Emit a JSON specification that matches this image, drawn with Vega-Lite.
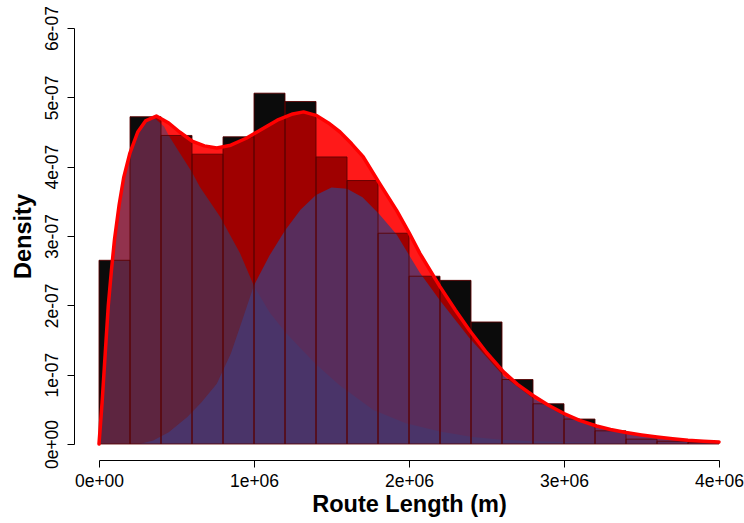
{
  "$schema": "https://vega.github.io/schema/vega-lite/v6.json",
  "width": 620,
  "height": 416,
  "autosize": {"type": "none"},
  "padding": {"left": 99, "top": 28, "right": 25, "bottom": 79},
  "background": "white",
  "config": {"view": {"stroke": null}, "font": "Liberation Sans"},
  "datasets": {
    "hist": [
      {"x": 0, "x2": 200000, "d": 2.65e-7},
      {"x": 200000, "x2": 400000, "d": 4.72e-7},
      {"x": 400000, "x2": 600000, "d": 4.45e-7},
      {"x": 600000, "x2": 800000, "d": 4.18e-7},
      {"x": 800000, "x2": 1000000, "d": 4.43e-7},
      {"x": 1000000, "x2": 1200000, "d": 5.06e-7},
      {"x": 1200000, "x2": 1400000, "d": 4.94e-7},
      {"x": 1400000, "x2": 1600000, "d": 4.14e-7},
      {"x": 1600000, "x2": 1800000, "d": 3.80e-7},
      {"x": 1800000, "x2": 2000000, "d": 3.04e-7},
      {"x": 2000000, "x2": 2200000, "d": 2.42e-7},
      {"x": 2200000, "x2": 2400000, "d": 2.36e-7},
      {"x": 2400000, "x2": 2600000, "d": 1.76e-7},
      {"x": 2600000, "x2": 2800000, "d": 0.93e-7},
      {"x": 2800000, "x2": 3000000, "d": 0.58e-7},
      {"x": 3000000, "x2": 3200000, "d": 0.36e-7},
      {"x": 3200000, "x2": 3400000, "d": 0.19e-7},
      {"x": 3400000, "x2": 3600000, "d": 0.07e-7},
      {"x": 3600000, "x2": 3800000, "d": 0.04e-7},
      {"x": 3800000, "x2": 4000000, "d": 0.02e-7}
    ],
    "mix": [
      {"x": 0, "d": 0},
      {"x": 20000, "d": 0.6e-7},
      {"x": 40000, "d": 1.3e-7},
      {"x": 60000, "d": 2.0e-7},
      {"x": 80000, "d": 2.5e-7},
      {"x": 100000, "d": 2.95e-7},
      {"x": 130000, "d": 3.45e-7},
      {"x": 160000, "d": 3.85e-7},
      {"x": 200000, "d": 4.2e-7},
      {"x": 250000, "d": 4.5e-7},
      {"x": 300000, "d": 4.66e-7},
      {"x": 370000, "d": 4.73e-7},
      {"x": 450000, "d": 4.63e-7},
      {"x": 520000, "d": 4.50e-7},
      {"x": 600000, "d": 4.37e-7},
      {"x": 680000, "d": 4.30e-7},
      {"x": 760000, "d": 4.27e-7},
      {"x": 850000, "d": 4.31e-7},
      {"x": 950000, "d": 4.41e-7},
      {"x": 1050000, "d": 4.54e-7},
      {"x": 1150000, "d": 4.67e-7},
      {"x": 1250000, "d": 4.76e-7},
      {"x": 1320000, "d": 4.79e-7},
      {"x": 1400000, "d": 4.74e-7},
      {"x": 1480000, "d": 4.63e-7},
      {"x": 1555000, "d": 4.50e-7},
      {"x": 1630000, "d": 4.33e-7},
      {"x": 1705000, "d": 4.14e-7},
      {"x": 1810000, "d": 3.76e-7},
      {"x": 1920000, "d": 3.37e-7},
      {"x": 2000000, "d": 3.05e-7},
      {"x": 2070000, "d": 2.75e-7},
      {"x": 2200000, "d": 2.27e-7},
      {"x": 2300000, "d": 1.93e-7},
      {"x": 2390000, "d": 1.64e-7},
      {"x": 2500000, "d": 1.32e-7},
      {"x": 2610000, "d": 1.04e-7},
      {"x": 2700000, "d": 0.86e-7},
      {"x": 2800000, "d": 0.70e-7},
      {"x": 2900000, "d": 0.56e-7},
      {"x": 3000000, "d": 0.44e-7},
      {"x": 3100000, "d": 0.34e-7},
      {"x": 3210000, "d": 0.26e-7},
      {"x": 3300000, "d": 0.21e-7},
      {"x": 3400000, "d": 0.165e-7},
      {"x": 3500000, "d": 0.13e-7},
      {"x": 3600000, "d": 0.10e-7},
      {"x": 3700000, "d": 0.075e-7},
      {"x": 3800000, "d": 0.053e-7},
      {"x": 3900000, "d": 0.04e-7},
      {"x": 4000000, "d": 0.03e-7}
    ],
    "c1": [
      {"x": 0, "d": 0},
      {"x": 20000, "d": 0.6e-7},
      {"x": 40000, "d": 1.3e-7},
      {"x": 60000, "d": 2.0e-7},
      {"x": 80000, "d": 2.5e-7},
      {"x": 100000, "d": 2.95e-7},
      {"x": 130000, "d": 3.45e-7},
      {"x": 160000, "d": 3.85e-7},
      {"x": 200000, "d": 4.2e-7},
      {"x": 250000, "d": 4.48e-7},
      {"x": 300000, "d": 4.64e-7},
      {"x": 360000, "d": 4.70e-7},
      {"x": 420000, "d": 4.58e-7},
      {"x": 450000, "d": 4.45e-7},
      {"x": 520000, "d": 4.2e-7},
      {"x": 600000, "d": 3.92e-7},
      {"x": 650000, "d": 3.71e-7},
      {"x": 780000, "d": 3.28e-7},
      {"x": 910000, "d": 2.75e-7},
      {"x": 1000000, "d": 2.28e-7},
      {"x": 1100000, "d": 1.90e-7},
      {"x": 1200000, "d": 1.62e-7},
      {"x": 1300000, "d": 1.38e-7},
      {"x": 1400000, "d": 1.15e-7},
      {"x": 1550000, "d": 0.85e-7},
      {"x": 1770000, "d": 0.49e-7},
      {"x": 1980000, "d": 0.30e-7},
      {"x": 2200000, "d": 0.18e-7},
      {"x": 2410000, "d": 0.10e-7},
      {"x": 2600000, "d": 0.06e-7},
      {"x": 2800000, "d": 0.04e-7},
      {"x": 3000000, "d": 0.03e-7},
      {"x": 3300000, "d": 0.015e-7},
      {"x": 3600000, "d": 0.008e-7},
      {"x": 4000000, "d": 0.004e-7}
    ],
    "c2": [
      {"x": 0, "d": 0},
      {"x": 260000, "d": 0},
      {"x": 350000, "d": 0.05e-7},
      {"x": 450000, "d": 0.17e-7},
      {"x": 570000, "d": 0.39e-7},
      {"x": 660000, "d": 0.60e-7},
      {"x": 760000, "d": 0.87e-7},
      {"x": 850000, "d": 1.30e-7},
      {"x": 910000, "d": 1.69e-7},
      {"x": 1000000, "d": 2.29e-7},
      {"x": 1100000, "d": 2.72e-7},
      {"x": 1200000, "d": 3.08e-7},
      {"x": 1300000, "d": 3.38e-7},
      {"x": 1400000, "d": 3.59e-7},
      {"x": 1500000, "d": 3.70e-7},
      {"x": 1600000, "d": 3.68e-7},
      {"x": 1700000, "d": 3.56e-7},
      {"x": 1810000, "d": 3.31e-7},
      {"x": 1920000, "d": 3.02e-7},
      {"x": 2070000, "d": 2.47e-7},
      {"x": 2200000, "d": 2.07e-7},
      {"x": 2390000, "d": 1.53e-7},
      {"x": 2610000, "d": 0.98e-7},
      {"x": 2800000, "d": 0.66e-7},
      {"x": 3000000, "d": 0.41e-7},
      {"x": 3200000, "d": 0.24e-7},
      {"x": 3400000, "d": 0.155e-7},
      {"x": 3600000, "d": 0.09e-7},
      {"x": 3800000, "d": 0.045e-7},
      {"x": 4000000, "d": 0.025e-7}
    ]
  },
  "encoding": {
    "x": {
      "field": "x",
      "type": "quantitative",
      "scale": {"domain": [0, 4000000], "nice": false, "zero": false},
      "axis": {
        "title": "Route Length (m)",
        "values": [0, 1000000, 2000000, 3000000, 4000000],
        "labelExpr": "datum.value == 0 ? '0e+00' : round(datum.value / 1000000) + 'e+06'",
        "offset": 16,
        "grid": false,
        "domainColor": "#000000",
        "domainWidth": 1,
        "tickColor": "#000000",
        "tickSize": 7,
        "tickWidth": 1,
        "labelFont": "Liberation Sans",
        "labelFontSize": 17.5,
        "labelColor": "#000000",
        "labelPadding": 5,
        "labelFlush": false,
        "labelOverlap": false,
        "titleFont": "Liberation Sans",
        "titleFontSize": 23.5,
        "titleFontWeight": "bold",
        "titleColor": "#000000",
        "titlePadding": 3
      }
    },
    "y": {
      "field": "d",
      "type": "quantitative",
      "scale": {"domain": [0, 6e-7], "nice": false},
      "axis": {
        "title": "Density",
        "values": [0, 1e-7, 2e-7, 3e-7, 4e-7, 5e-7, 6e-7],
        "labelExpr": "datum.value == 0 ? '0e+00' : round(datum.value * 10000000) + 'e-07'",
        "offset": 25,
        "grid": false,
        "domainColor": "#000000",
        "domainWidth": 1,
        "tickColor": "#000000",
        "tickSize": 7,
        "tickWidth": 1,
        "labelAngle": 270,
        "labelAlign": "center",
        "labelBaseline": "bottom",
        "labelFont": "Liberation Sans",
        "labelFontSize": 17.5,
        "labelColor": "#000000",
        "labelPadding": 6,
        "labelFlush": false,
        "labelOverlap": false,
        "titleFont": "Liberation Sans",
        "titleFontSize": 23.5,
        "titleFontWeight": "bold",
        "titleColor": "#000000",
        "titlePadding": 8
      }
    }
  },
  "layer": [
    {
      "data": {"name": "hist"},
      "mark": {"type": "bar", "color": "#111111"},
      "encoding": {"x2": {"field": "x2"}, "y2": {"datum": 0}}
    },
    {
      "data": {"name": "mix"},
      "mark": {"type": "area", "color": "#ff0000", "opacity": 0.9}
    },
    {
      "data": {"name": "hist"},
      "mark": {"type": "bar", "color": "#000000", "opacity": 0.31},
      "encoding": {"x2": {"field": "x2"}, "y2": {"datum": 0}}
    },
    {
      "data": {"name": "c1"},
      "mark": {"type": "area", "color": "#0d538d", "opacity": 0.45}
    },
    {
      "data": {"name": "c2"},
      "mark": {"type": "area", "color": "#463873", "opacity": 0.8}
    },
    {
      "data": {"name": "hist"},
      "mark": {"type": "bar", "fillOpacity": 0, "stroke": "#5a0000", "strokeWidth": 1, "strokeOpacity": 0.85},
      "encoding": {"x2": {"field": "x2"}, "y2": {"datum": 0}}
    },
    {
      "data": {"name": "mix"},
      "mark": {"type": "line", "color": "#ff0000", "strokeWidth": 3.5, "strokeCap": "round", "strokeJoin": "round"}
    }
  ]
}
